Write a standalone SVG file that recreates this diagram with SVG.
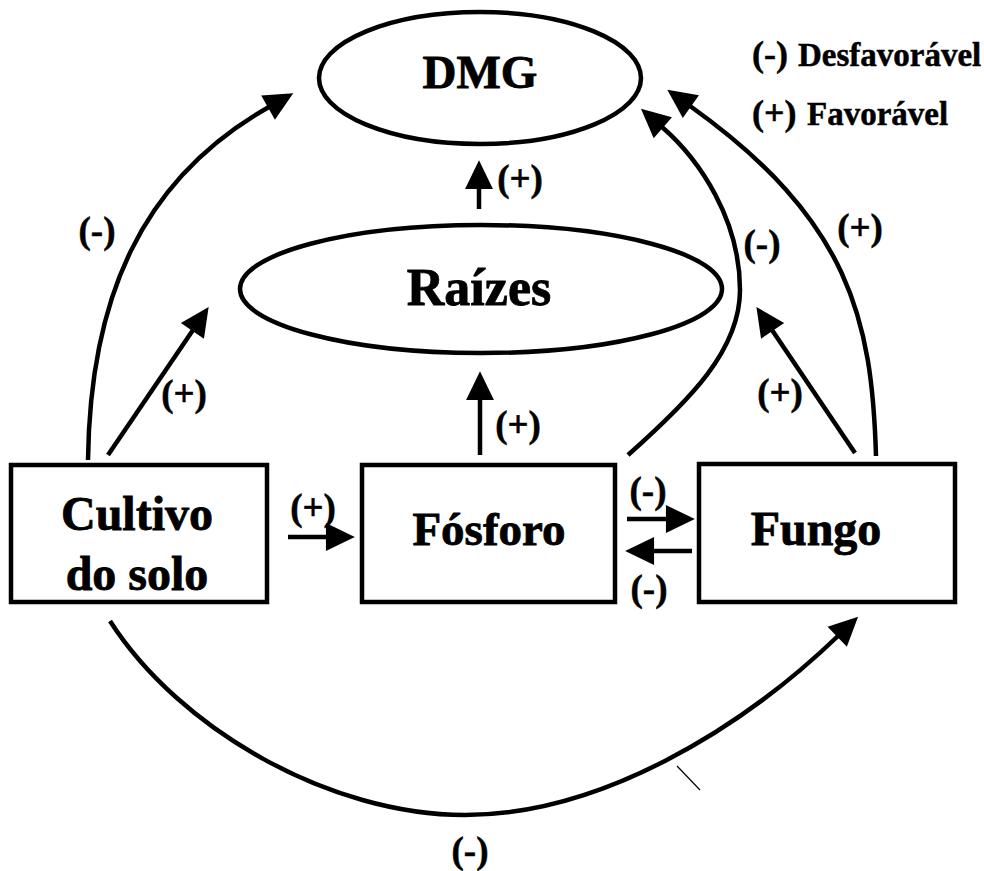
<svg xmlns="http://www.w3.org/2000/svg" width="984" height="871" viewBox="0 0 984 871">
<style>
.shape{fill:none;stroke:#000;stroke-width:4.5}
.conn{fill:none;stroke:#000;stroke-width:4.5;stroke-linecap:butt}
.node{font-family:"Liberation Serif","Times New Roman",serif;font-weight:bold;fill:#000;stroke:#000;stroke-width:0.8;text-anchor:middle}
.lbl{font-family:"Liberation Serif","Times New Roman",serif;font-weight:bold;fill:#000;stroke:#000;stroke-width:0.5;text-anchor:middle;font-size:37px}
.leg{font-family:"Liberation Serif","Times New Roman",serif;font-weight:bold;fill:#000;stroke:#000;stroke-width:0.5}
</style>
<defs>
<marker id="ah" markerUnits="userSpaceOnUse" markerWidth="30" markerHeight="30" viewBox="0 0 28 26" refX="1" refY="13" orient="auto" overflow="visible">
<path d="M0,0 L27,13 L0,26 z" fill="#000"/>
</marker>
</defs>
<rect width="984" height="871" fill="#fff"/>

<g id="dmg">
<ellipse class="shape" cx="480" cy="78" rx="161" ry="66"/>
<text class="node" x="480" y="88" font-size="47">DMG</text>
</g>
<g id="raizes">
<ellipse class="shape" cx="481" cy="289" rx="241" ry="64"/>
<text class="node" x="479" y="305" font-size="52">Raízes</text>
</g>
<g id="cultivo">
<rect class="shape" x="11" y="465" width="256" height="137"/>
<text class="node" x="137" y="530" font-size="48">Cultivo</text>
<text class="node" x="137" y="590" font-size="48">do solo</text>
</g>
<g id="fosforo">
<rect class="shape" x="362" y="465" width="253" height="137"/>
<text class="node" x="489" y="545" font-size="47">Fósforo</text>
</g>
<g id="fungo">
<rect class="shape" x="699" y="464" width="256" height="138"/>
<text class="node" x="816" y="545" font-size="48">Fungo</text>
</g>

<g id="connectors">
<path class="conn" d="M88,460 C90,300 140,180 269,107" marker-end="url(#ah)"/>
<path class="conn" d="M108,455 L193,330" marker-end="url(#ah)"/>
<path class="conn" d="M288,537 L327,537" marker-end="url(#ah)"/>
<path class="conn" d="M480,455 L480,399" marker-end="url(#ah)"/>
<path class="conn" d="M479,209 L479,188" marker-end="url(#ah)"/>
<path class="conn" d="M628,455 C690,400 740,350 740,290 C740,220 700,160 662,127" marker-end="url(#ah)"/>
<path class="conn" d="M876,456 C872,320 850,220 690,106" marker-end="url(#ah)"/>
<path class="conn" d="M855,453 L772,330" marker-end="url(#ah)"/>
<path class="conn" d="M627,519 L667,519" marker-end="url(#ah)"/>
<path class="conn" d="M692,551 L653,551" marker-end="url(#ah)"/>
<path class="conn" d="M110,621 C180,730 330,815 465,815 C600,815 740,730 838,636" marker-end="url(#ah)"/>
<path d="M677,766 L700,790" stroke="#000" stroke-width="1.2" fill="none"/>
<text class="lbl" x="97" y="243">(-)</text>
<text class="lbl" x="184" y="406">(+)</text>
<text class="lbl" x="313" y="520">(+)</text>
<text class="lbl" x="518" y="437">(+)</text>
<text class="lbl" x="520" y="191">(+)</text>
<text class="lbl" x="762" y="256">(-)</text>
<text class="lbl" x="860" y="240">(+)</text>
<text class="lbl" x="780" y="405">(+)</text>
<text class="lbl" x="648" y="503">(-)</text>
<text class="lbl" x="649" y="601">(-)</text>
<text class="lbl" x="470" y="863">(-)</text>
</g>

<g id="legend">
<text class="leg" x="752" y="66" font-size="36">(-)</text>
<text class="leg" x="798" y="66" font-size="33">Desfavorável</text>
<text class="leg" x="752" y="125" font-size="36">(+)</text>
<text class="leg" x="807" y="125" font-size="33">Favorável</text>
</g>
</svg>
